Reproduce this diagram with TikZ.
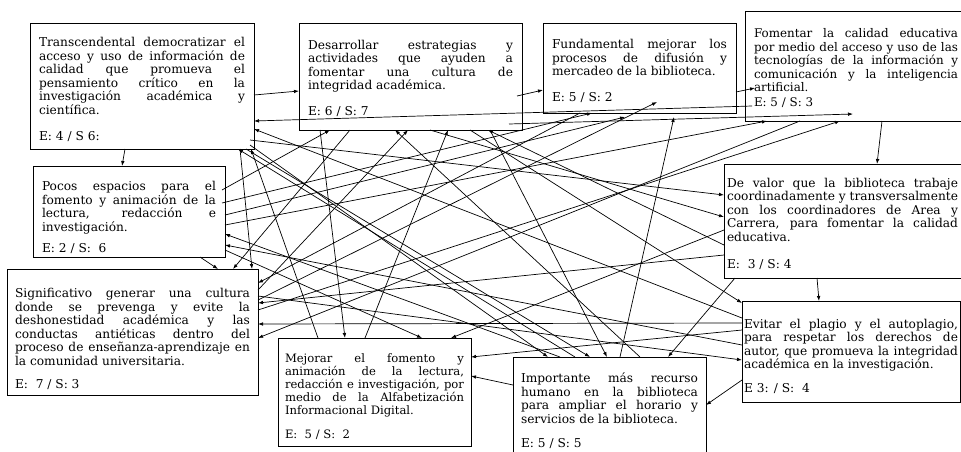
\documentclass[tikz,border=0pt]{standalone}
\usepackage{fontspec}
\setmainfont{DejaVu Serif}
\usetikzlibrary{arrows.meta}
\tolerance=10000
\hbadness=10000
\hyphenpenalty=10000
\exhyphenpenalty=10000
\setlength{\parindent}{0pt}

\begin{document}
\begin{tikzpicture}[x=1pt, y=-1pt, line width=0.7pt, >={Latex[length=5pt, width=3.6pt]},
    idea/.style = {draw, line width=0.9pt, rectangle, anchor=north west, inner ysep=0pt, inner xsep=9pt,
                   outer sep=0pt, align=justify, font=\fontsize{12.2}{13.5}\selectfont,
                   execute at begin node={\rule{0pt}{#1}}},
    idea/.default = 15pt]
    \useasboundingbox (0,0) rectangle (961,451);
    \clip (0,0) rectangle (961,451);

    \node[idea=16.3pt, text width=206pt, minimum height=126pt] (trans) at (30,23)
        {Transcendental democratizar el\linebreak acceso y uso de información de\linebreak calidad que promueva el\linebreak pensamiento crítico en la\linebreak investigación académica y\linebreak científica.\\[13pt] E: 4 / S 6:};
    \node[idea=12.5pt, text width=205pt, minimum height=107pt] (estrat) at (299,23)
        {Desarrollar estrategias y\linebreak actividades que ayuden a\linebreak fomentar una cultura de\linebreak integridad académica.\\[12pt] E: 6 / S: 7};
    \node[idea=15.5pt, text width=175pt, minimum height=90pt] (difus) at (543,23)
        {Fundamental mejorar los\linebreak procesos de difusión y\linebreak mercadeo de la biblioteca.\\[12.6pt] E: 5 / S: 2};
    \node[idea=13.5pt, text width=204pt, minimum height=110pt, font=\fontsize{11.9}{13.5}\selectfont] (tecno) at (745,11)
        {Fomentar la calidad educativa\linebreak por medio del acceso y uso de las\linebreak tecnologías de la información y\linebreak comunicación y la inteligencia\linebreak artificial.\\[1.5pt] E: 5 / S: 3};
    \node[idea=14.5pt, text width=231pt, inner xsep=3pt, minimum height=114pt] (valor) at (724,164)
        {De valor que la biblioteca trabaje\linebreak coordinadamente y transversalmente\linebreak con los coordinadores de Area y\linebreak Carrera, para fomentar la calidad\linebreak educativa.\\[13.6pt] E:\ \ 3 / S: 4};
    \node[idea=21pt, text width=174pt, minimum height=91pt] (pocos) at (33,166)
        {Pocos espacios para el\linebreak fomento y animación de la\linebreak lectura, redacción e\linebreak investigación.\\[7.6pt] E: 2 / S:\ \ 6};
    \node[idea=23pt, text width=235pt, inner xsep=8pt, minimum height=126pt] (signif) at (7,269)
        {Significativo generar una cultura\linebreak donde se prevenga y evite la\linebreak deshonestidad académica y las\linebreak conductas antiéticas dentro del\linebreak proceso de enseñanza-aprendizaje en\linebreak la comunidad universitaria.\\[9.6pt] E:\ \ 7 / S: 3};
    \node[idea=17.8pt, text width=179pt, inner xsep=7pt, minimum height=108pt, font=\fontsize{11.6}{13}\selectfont] (mejorar) at (278,338)
        {Mejorar el fomento y\linebreak animación de la lectura,\linebreak redacción e investigación, por\linebreak medio de la Alfabetización\linebreak Informacional Digital.\\[10.6pt] E:\ \ 5 / S:\ \ 2};
    \node[idea=12pt, text width=177pt, inner xsep=8pt, minimum height=106pt] (recurso) at (513,357)
        {Importante más recurso\linebreak humano en la biblioteca\linebreak para ampliar el horario y\linebreak servicios de la biblioteca.\\[11pt] E: 5 / S: 5};
    \node[idea=19pt, text width=214pt, inner xsep=2pt, minimum height=101pt] (plagio) at (742,301)
        {Evitar el plagio y el autoplagio,\linebreak para respetar los derechos de\linebreak autor, que promueva la integridad\linebreak académica en la investigación.\\[10.6pt] E 3: / S:\ \ 4};

    % chain along the top
    \draw[->] ([yshift=-72]trans.north east) -- ([yshift=-68]estrat.north west);
    \draw[->] ([xshift=-5,yshift=-73]estrat.north east) -- ([yshift=-67]difus.north west);
    \draw[->] ([yshift=-69]difus.north east) -- ([xshift=10,yshift=-77]tecno.north west);
    \draw[->] ([xshift=137]tecno.south west) -- ([xshift=153]valor.north west);
    \draw[->] ([xshift=93]valor.south west) -- ([xshift=77]plagio.north west);
    \draw[->] ([xshift=95]trans.south west) -- ([xshift=89]pocos.north west);

    % into trans
    \draw[->] ([xshift=7,yshift=15]tecno.south west) -- ([yshift=28]trans.south east);
    \draw[->] ([yshift=-17]plagio.north west) -- ([yshift=20]trans.south east);
    \draw[->] ([xshift=62]recurso.north west) -- ([xshift=-16]trans.south east);
    \draw[->] ([xshift=40]mejorar.north west) -- ([xshift=-3]trans.south east);

    % into estrat
    \draw[->] ([xshift=-3,yshift=-24]pocos.north east) -- ([xshift=31]estrat.south west);
    \draw[->] ([yshift=-21]signif.north east) -- ([xshift=109]estrat.south west);
    \draw[->] ([xshift=127]recurso.north west) -- ([xshift=96]estrat.south west);
    \draw[->] ([xshift=87]mejorar.north west) -- ([xshift=149]estrat.south west);
    \draw[->] ([yshift=-81]valor.north west) -- ([xshift=189]estrat.south west);

    % into difus and tecno
    \draw[->] ([xshift=-13,yshift=6]estrat.south east) -- ([xshift=108,yshift=7]tecno.south west);
    \draw[->] ([yshift=-31]signif.north east) -- ([xshift=114,yshift=11]difus.south west);
    \draw[->] ([xshift=-3,yshift=-37]pocos.north east) -- ([xshift=49]difus.south west);
    \draw[->] ([yshift=-49]pocos.north east) -- ([xshift=82,yshift=-4]difus.south west);
    \draw[->] ([xshift=107]recurso.north west) -- ([xshift=131,yshift=-4]difus.south west);
    \draw[->] ([yshift=-59]pocos.north east) -- ([xshift=22]tecno.south west);
    \draw[->] ([yshift=-41]signif.north east) -- ([xshift=95]tecno.south west);

    % into valor
    \draw[->] ([xshift=-4,yshift=9]trans.south east) -- ([yshift=-31]valor.north west);
    \draw[->] ([xshift=131]estrat.south west) -- ([yshift=-53]valor.north west);

    % into pocos
    \draw[->] ([xshift=47]recurso.north west) -- ([yshift=23]pocos.south east);
    \draw[->] ([yshift=-44]plagio.north west) -- ([yshift=12]pocos.south east);

    % into signif
    \draw[->] ([xshift=-25]pocos.south east) -- ([xshift=-40]signif.north east);
    \draw[->] ([xshift=51]estrat.south west) -- ([xshift=-25]signif.north east);
    \draw[->] ([xshift=-14]trans.south east) -- ([xshift=-6]signif.north east);
    \draw[->] ([xshift=37]difus.south west) -- ([yshift=-14]signif.north east);
    \draw[->] ([yshift=-91]valor.north west) -- ([yshift=-34]signif.north east);
    \draw[->] ([yshift=-22]plagio.north west) -- ([yshift=-55]signif.north east);
    \draw[->] ([xshift=55]tecno.south west) -- ([yshift=-69]signif.north east);

    % into mejorar
    \draw[->] ([xshift=21]estrat.south west) -- ([xshift=67]mejorar.north west);
    \draw[->] ([yshift=7]pocos.south east) -- ([xshift=144]mejorar.north west);
    \draw[->] ([yshift=-66]valor.north west) -- ([xshift=-20]mejorar.north east);
    \draw[->] ([yshift=-29]plagio.north west) -- ([yshift=-19]mejorar.north east);
    \draw[->] ([yshift=-28]recurso.north west) -- ([yshift=-38]mejorar.north east);

    % into recurso
    \draw[->] ([xshift=-4,yshift=4]trans.south east) -- ([xshift=35]recurso.north west);
    \draw[->] ([xshift=-8]trans.south east) -- ([xshift=77]recurso.north west);
    \draw[->] ([xshift=191]estrat.south west) -- ([xshift=94]recurso.north west);
    \draw[->] ([xshift=11]valor.south west) -- ([xshift=155]recurso.north west);
    \draw[->] ([yshift=-79]plagio.north west) -- ([yshift=-48]recurso.north east);

    % into plagio
    \draw[->] ([xshift=171]estrat.south west) -- ([yshift=-2]plagio.north west);
    \draw[->] ([yshift=-27]signif.north east) -- ([yshift=-59]plagio.north west);
\end{tikzpicture}
\end{document}
